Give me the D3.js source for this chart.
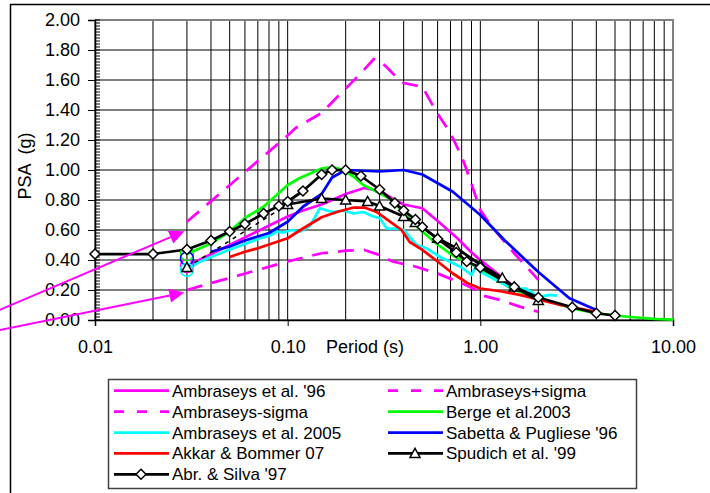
<!DOCTYPE html>
<html>
<head>
<meta charset="utf-8">
<script src="https://cdn.jsdelivr.net/npm/d3@7/dist/d3.min.js"></script>
<style>
  body { margin: 0; background: #fff; }
  svg { display: block; }
  text { font-family: Arial, "Liberation Sans", sans-serif; fill: #000; }
</style>
</head>
<body>
<svg id="chart" width="710" height="493"></svg>
<script>
// ---- Axis ticks ----
const xTickValues = [0.01, 0.1, 1, 10];
const xTickLabels = ["0.01", "0.10", "1.00", "10.00"];
const yTickValues = [0, 0.2, 0.4, 0.6, 0.8, 1.0, 1.2, 1.4, 1.6, 1.8, 2.0];
const yTickLabels = ["0.00", "0.20", "0.40", "0.60", "0.80", "1.00", "1.20", "1.40", "1.60", "1.80", "2.00"];

// ---- Spectra: [period (s), PSA (g)] ----
const ambraseys96 = [[0.03,0.36],[0.1,0.69],[0.12,0.73],[0.15,0.77],[0.2,0.84],[0.25,0.88],[0.3,0.86],[0.35,0.81],[0.4,0.77],[0.5,0.745],[0.62,0.645],[0.76,0.545],[0.9,0.45],[1.0,0.40],[1.5,0.22],[2.0,0.14]];
const ambraseysPlusSigma = [[0.03,0.655],[0.1,1.23],[0.11,1.28],[0.15,1.38],[0.19,1.515],[0.24,1.645],[0.28,1.74],[0.3,1.73],[0.33,1.68],[0.35,1.645],[0.4,1.58],[0.5,1.555],[0.59,1.39],[0.7,1.245],[0.8,1.09],[0.85,1.0],[1.0,0.733],[1.15,0.62],[1.5,0.445],[1.8,0.333],[2.0,0.267]];
const ambraseysMinusSigma = [[0.03,0.2],[0.1,0.39],[0.15,0.445],[0.2,0.462],[0.25,0.467],[0.3,0.433],[0.35,0.39],[0.45,0.36],[0.6,0.31],[0.8,0.245],[0.95,0.2],[1.0,0.167],[1.27,0.133],[1.6,0.089],[2.0,0.055]];
const berge2003 = [[0.03,0.44],[0.04,0.51],[0.05,0.59],[0.06,0.68],[0.075,0.755],[0.1,0.9],[0.115,0.945],[0.15,1.01],[0.17,1.02],[0.195,1.0],[0.22,0.955],[0.247,0.9],[0.29,0.855],[0.35,0.8],[0.41,0.7],[0.48,0.61],[0.59,0.51],[0.72,0.43],[0.92,0.367],[1.0,0.33],[1.2,0.27],[1.5,0.2],[2.0,0.145],[3.0,0.078],[4.0,0.045],[5.0,0.03],[6.0,0.02],[8.0,0.008],[10.0,0.003]];
const ambraseys2005 = [[0.03,0.335],[0.034,0.38],[0.04,0.42],[0.05,0.47],[0.061,0.51],[0.072,0.545],[0.08,0.56],[0.088,0.59],[0.095,0.583],[0.105,0.6],[0.116,0.59],[0.131,0.63],[0.147,0.745],[0.16,0.73],[0.173,0.72],[0.195,0.73],[0.22,0.71],[0.247,0.72],[0.278,0.69],[0.3,0.68],[0.327,0.61],[0.36,0.61],[0.4,0.6],[0.467,0.5],[0.527,0.478],[0.617,0.42],[0.724,0.378],[0.8,0.35],[0.9,0.3],[0.957,0.367],[1.0,0.32],[1.2,0.27],[1.47,0.21],[1.72,0.21],[2.0,0.153],[2.29,0.167],[2.5,0.162]];
const sabettaPugliese96 = [[0.04,0.455],[0.05,0.49],[0.06,0.53],[0.08,0.58],[0.1,0.655],[0.12,0.755],[0.15,0.84],[0.17,0.95],[0.2,1.0],[0.3,0.99],[0.4,1.0],[0.5,0.97],[0.72,0.855],[1.0,0.70],[1.34,0.53],[2.0,0.32],[2.9,0.145],[4.0,0.067]];
const akkarBommer07 = [[0.05,0.42],[0.06,0.455],[0.07,0.478],[0.1,0.545],[0.12,0.61],[0.15,0.685],[0.18,0.72],[0.22,0.75],[0.25,0.75],[0.29,0.72],[0.33,0.667],[0.39,0.6],[0.43,0.52],[0.5,0.467],[0.6,0.39],[0.72,0.31],[0.86,0.245],[1.0,0.21],[1.3,0.19],[1.6,0.167],[2.0,0.138],[2.6,0.1],[3.0,0.085],[4.0,0.055]];
const spudich99 = [[0.03,0.35],[0.1,0.77],[0.15,0.81],[0.2,0.80],[0.26,0.79],[0.3,0.76],[0.4,0.69],[0.46,0.65],[0.6,0.545],[0.75,0.48],[1.0,0.37],[1.3,0.28],[1.5,0.22],[2.0,0.13]];
const abrahamsonSilva97 = [[0.01,0.44],[0.02,0.44],[0.03,0.47],[0.04,0.53],[0.05,0.59],[0.06,0.64],[0.075,0.71],[0.09,0.76],[0.1,0.79],[0.12,0.86],[0.15,0.97],[0.17,1.0],[0.2,1.0],[0.24,0.96],[0.3,0.87],[0.36,0.78],[0.4,0.73],[0.46,0.67],[0.5,0.62],[0.6,0.54],[0.75,0.45],[0.85,0.39],[1.0,0.35],[1.5,0.22],[2.0,0.15],[3.0,0.085],[4.0,0.045],[5.0,0.03]];

// Peak ground acceleration values, shown as rings at T = 0.03 s
const pgaPeriod = 0.03;
const pgaValues = [["Ambraseys et al. '96", 0.36], ["Berge et al.2003", 0.44], ["Sabetta & Pugliese '96", 0.41], ["Ambraseys et al. 2005", 0.335]];

// Arrows pointing at the ±sigma curves: [from, to] in (period, PSA)
const arrowPaths = [[[0.0032, 0.067], [0.0291, 0.592]], [[0.0032, -0.067], [0.0291, 0.183]]];

const series = [
  { name: "Ambraseys et al. '96", data: ambraseys96, color: "#ff00ff" },
  { name: "Ambraseys+sigma", data: ambraseysPlusSigma, color: "#ff00ff", dash: "16,10" },
  { name: "Ambraseys-sigma", data: ambraseysMinusSigma, color: "#ff00ff", dash: "16,10" },
  { name: "Berge et al.2003", data: berge2003, color: "#00ff00" },
  { name: "Ambraseys et al. 2005", data: ambraseys2005, color: "#00ffff" },
  { name: "Sabetta & Pugliese '96", data: sabettaPugliese96, color: "#0000ff" },
  { name: "Akkar & Bommer 07", data: akkarBommer07, color: "#ff0000" },
  // the link from PGA to the first spectral ordinate is drawn as a thin dashed stub
  { name: "Spudich et al. '99", data: spudich99, color: "#000000", marker: "triangle", pgaStub: true },
  { name: "Abr. & Silva '97", data: abrahamsonSilva97, color: "#000000", marker: "diamond" }
];
const colorOf = Object.fromEntries(series.map(s => [s.name, s.color]));

const svg = d3.select("#chart");
const x = d3.scaleLog().domain([0.01, 10]).range([95, 673]);
const y = d3.scaleLinear().domain([0, 2]).range([320, 20]);

const markerPath = {
  diamond: "M0,-5L5,0L0,5L-5,0Z",
  triangle: "M0,-5L5,4L-5,4Z"
};

// outer frame of the chart area
svg.append("path").attr("d", "M10.5,493V4.5H710").attr("fill", "none").attr("stroke", "#000").attr("stroke-width", 1.5);

// grid
const grid = svg.append("g");
grid.selectAll("line.v").data(x.ticks()).join("line")
  .attr("x1", d => x(d)).attr("x2", d => x(d)).attr("y1", y(0)).attr("y2", y(2))
  .attr("stroke", "#000").attr("stroke-width", 1);
grid.selectAll("line.h").data(yTickValues).join("line")
  .attr("x1", x(0.01)).attr("x2", x(10)).attr("y1", d => y(d)).attr("y2", d => y(d))
  .attr("stroke", "#000").attr("stroke-width", 1);
// plot frame (top and right)
svg.append("path").attr("d", `M${x(0.01)},${y(2)}H${x(10)}V${y(0)}`)
  .attr("fill", "none").attr("stroke", "#808080").attr("stroke-width", 2);

// y axis with minor ticks
svg.append("g").selectAll("line").data(d3.range(0, 101).map(i => i * 0.02)).join("line")
  .attr("x1", x(0.01)).attr("x2", x(0.01) + 5).attr("y1", d => y(d)).attr("y2", d => y(d))
  .attr("stroke", "#000").attr("stroke-width", 1);
const yAxis = svg.append("g").attr("transform", `translate(${x(0.01)},0)`)
  .call(d3.axisLeft(y).tickValues(yTickValues).tickFormat((d, i) => yTickLabels[i]).tickSize(7).tickPadding(8));
yAxis.select(".domain").attr("stroke", "#000").attr("stroke-width", 1.5);
yAxis.selectAll(".tick line").attr("stroke", "#000");
yAxis.selectAll("text").attr("font-size", 18).attr("font-family", "Arial, 'Liberation Sans', sans-serif");

const xAxis = svg.append("g").attr("transform", `translate(0,${y(0)})`)
  .call(d3.axisBottom(x).tickValues(xTickValues).tickFormat((d, i) => xTickLabels[i]).tickSize(6).tickPadding(14));
xAxis.select(".domain").attr("stroke", "#000").attr("stroke-width", 1.5);
xAxis.selectAll(".tick line").attr("stroke", "#000");
xAxis.selectAll("text").attr("font-size", 18).attr("font-family", "Arial, 'Liberation Sans', sans-serif");

// axis titles
svg.append("text").attr("x", 365).attr("y", 353).attr("text-anchor", "middle")
  .attr("font-size", 18).text("Period (s)");
svg.append("text").attr("transform", "translate(31,166) rotate(-90)").attr("text-anchor", "middle")
  .attr("font-size", 18).style("white-space", "pre").text("PSA  (g)");

// curves
const line = d3.line().x(d => x(d[0])).y(d => y(d[1]));
const curves = svg.append("g");
series.forEach(s => {
  const main = s.pgaStub ? s.data.slice(1) : s.data;
  if (s.pgaStub) {
    curves.append("path").attr("d", line(s.data.slice(0, 2))).attr("fill", "none")
      .attr("stroke", s.color).attr("stroke-width", 1.5).attr("stroke-dasharray", "4,5");
  }
  curves.append("path").attr("d", line(main)).attr("fill", "none")
    .attr("stroke", s.color).attr("stroke-width", 2.75)
    .attr("stroke-linejoin", "round")
    .attr("stroke-dasharray", s.dash || null);
});
// PGA rings
curves.selectAll("circle").data(pgaValues).join("circle")
  .attr("cx", x(pgaPeriod)).attr("cy", d => y(d[1])).attr("r", 6.5)
  .attr("fill", "none").attr("stroke", d => colorOf[d[0]]).attr("stroke-width", 1.5);
// markers
series.filter(s => s.marker).forEach(s => {
  curves.append("g").selectAll("path").data(s.data).join("path")
    .attr("d", markerPath[s.marker])
    .attr("transform", d => `translate(${x(d[0])},${y(d[1])})`)
    .attr("fill", "#fff").attr("stroke", "#000").attr("stroke-width", 1.5);
});

// arrows
arrowPaths.forEach(([a, b]) => {
  const x0 = x(a[0]), y0 = y(a[1]), x1 = x(b[0]), y1 = y(b[1]);
  const ang = Math.atan2(y1 - y0, x1 - x0);
  const L = 15, W = 7;
  const bx = x1 - L * Math.cos(ang), by = y1 - L * Math.sin(ang);
  svg.append("line").attr("x1", x0).attr("y1", y0).attr("x2", bx).attr("y2", by)
    .attr("stroke", "#ff00ff").attr("stroke-width", 2);
  svg.append("path")
    .attr("d", `M${x1},${y1}L${bx - W * Math.sin(ang)},${by + W * Math.cos(ang)}L${bx + W * Math.sin(ang)},${by - W * Math.cos(ang)}Z`)
    .attr("fill", "#ff00ff");
});

// legend
const legend = svg.append("g");
legend.append("rect").attr("x", 108.5).attr("y", 379.5).attr("width", 528).attr("height", 109)
  .attr("fill", "#fff").attr("stroke", "#404040").attr("stroke-width", 1.5);
series.forEach((s, i) => {
  const col = i % 2, row = Math.floor(i / 2);
  const lx = col === 0 ? 114 : 388;
  const cy = 390.7 + row * 20.9;
  const g = legend.append("g");
  g.append("line").attr("x1", lx).attr("x2", lx + 55).attr("y1", cy).attr("y2", cy)
    .attr("stroke", s.color).attr("stroke-width", 2.75).attr("stroke-dasharray", s.dash ? "10,13" : null);
  if (s.marker) {
    g.append("path").attr("d", markerPath[s.marker]).attr("transform", `translate(${lx + 27},${cy})`)
      .attr("fill", "#fff").attr("stroke", "#000").attr("stroke-width", 1.5);
  }
  g.append("text").attr("x", lx + 58).attr("y", cy + 6).attr("font-size", 17).text(s.name);
});
</script>
</body>
</html>
